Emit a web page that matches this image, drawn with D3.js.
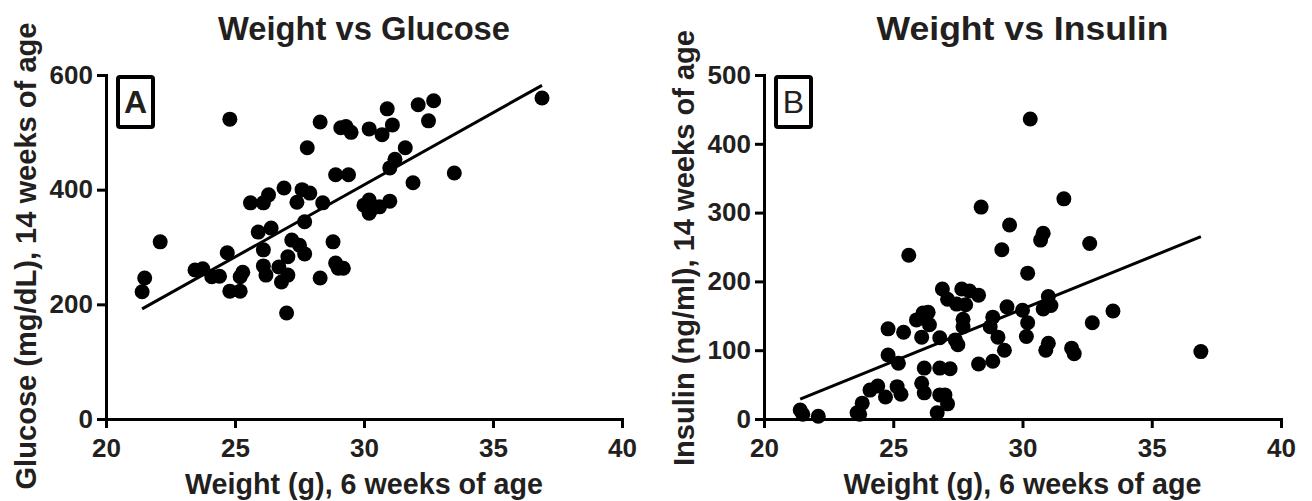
<!DOCTYPE html>
<html>
<head>
<meta charset="utf-8">
<script src="https://cdn.jsdelivr.net/npm/d3@7"></script>
<style>
  body { margin: 0; background: #fff; }
  text { font-family: "Liberation Sans", Arial, sans-serif; fill: #231f20; }
</style>
</head>
<body>
<div id="chart"></div>
<script>
// panel A: weight (g) at 6 weeks vs glucose (mg/dL) at 14 weeks
const weightA = [21.4, 21.5, 22.1, 23.45, 23.75, 24.1, 24.4, 24.7, 24.8, 24.8, 25.2, 25.2, 25.3,
  25.6, 25.9, 26.1, 26.1, 26.1, 26.2, 26.3, 26.4, 26.7, 26.8, 26.9, 27.05, 27.05, 27.0, 27.2,
  27.4, 27.5, 27.6, 27.7, 27.7, 27.8, 27.9, 28.3, 28.3, 28.4, 28.8, 28.9, 28.9, 29.0, 29.2,
  29.1, 29.3, 29.5, 29.4, 30.0, 30.2, 30.2, 30.2, 30.35, 30.6, 30.7, 30.9, 31.0, 31.0, 31.1,
  31.2, 31.6, 31.9, 32.1, 32.5, 32.7, 33.5, 36.9];
const glucose = [222, 246, 309, 260, 262, 248, 249, 290, 223, 523, 223, 248, 256,
  377, 326, 377, 295, 267, 251, 391, 333, 265, 239, 403, 251, 283, 185, 312,
  378, 303, 400, 288, 344, 473, 394, 518, 246, 377, 309, 426, 272, 263, 263,
  508, 510, 500, 426, 373, 382, 359, 506, 368, 370, 496, 541, 380, 438, 513,
  453, 473, 412, 548, 520, 555, 429, 560];
const fitA = [[21.4, 192], [36.9, 582]];

// panel B: weight (g) at 6 weeks vs insulin (ng/ml) at 14 weeks
const weightB = [21.4, 21.5, 22.1, 23.6, 23.7, 23.8, 24.1, 24.4, 24.7, 24.8, 24.8, 25.15, 25.2,
  25.3, 25.4, 25.6, 25.9, 26.1, 26.1, 26.15, 26.2, 26.2, 26.35, 26.4, 26.7, 26.8, 26.8, 26.8,
  26.9, 27.0, 27.1, 27.1, 27.2, 27.4, 27.45, 27.5, 27.65, 27.7, 27.7, 27.8, 27.95, 28.3, 28.3,
  28.4, 28.75, 28.85, 28.85, 29.05, 29.2, 29.3, 29.4, 29.5, 30.0, 30.15, 30.2, 30.2, 30.3,
  30.7, 30.8, 30.9, 31.0, 31.0, 31.1, 30.8, 31.6, 31.9, 32.0, 32.6, 32.7, 33.5, 36.9];
const insulin = [13, 7, 4, 9, 7, 23, 42, 48, 32, 131, 93, 47, 81,
  36, 126, 238, 144, 119, 52, 154, 74, 38, 155, 137, 9, 118, 74, 35,
  189, 35, 174, 22, 73, 115, 167, 108, 189, 145, 134, 166, 186, 180, 80,
  308, 134, 148, 84, 119, 246, 100, 163, 282, 158, 120, 140, 212, 436,
  260, 270, 100, 110, 178, 165, 160, 320, 103, 95, 255, 140, 157, 98];
const fitB = [[21.4, 29], [36.9, 265]];

const xTicks = [20, 25, 30, 35, 40];
const yTicksA = [0, 200, 400, 600];
const yTicksB = [0, 100, 200, 300, 400, 500];

const W = 1312, H = 501;
const svg = d3.select("#chart").append("svg")
  .attr("width", W).attr("height", H);

const panels = [
  {left: 106, right: 622, top: 75, bottom: 419, xs: weightA, ys: glucose, fit: fitA,
   yMax: 600, yTicks: yTicksA, title: "Weight vs Glucose", letter: "A", bold: true,
   ytitle: "Glucose (mg/dL), 14 weeks of age", ytitleX: 36, ytitleLen: 467, ytitleY: 256},
  {left: 764, right: 1281, top: 75, bottom: 419, xs: weightB, ys: insulin, fit: fitB,
   yMax: 500, yTicks: yTicksB, title: "Weight vs Insulin", letter: "B", bold: false,
   ytitle: "Insulin (ng/ml), 14 weeks of age", ytitleX: 694, ytitleLen: 436, ytitleY: 248}
];

panels.forEach(p => {
  const x = d3.scaleLinear().domain([20, 40]).range([p.left, p.right]);
  const y = d3.scaleLinear().domain([0, p.yMax]).range([p.bottom, p.top]);
  const g = svg.append("g");

  // axes
  const xAxis = g.append("g")
    .attr("transform", `translate(0,${p.bottom})`)
    .call(d3.axisBottom(x).tickValues(xTicks).tickSize(9).tickSizeOuter(0).tickPadding(10));
  const yAxis = g.append("g")
    .attr("transform", `translate(${p.left},0)`)
    .call(d3.axisLeft(y).tickValues(p.yTicks).tickSize(9).tickSizeOuter(0).tickPadding(4));

  [xAxis, yAxis].forEach(a => {
    a.select(".domain").attr("stroke", "#000").attr("stroke-width", 3)
      .attr("stroke-linecap", "square");
    a.selectAll(".tick line").attr("stroke", "#000").attr("stroke-width", 3);
    a.selectAll(".tick text")
      .style("font-family", "'Liberation Sans', Arial, sans-serif")
      .style("font-size", "26px").style("font-weight", "bold").attr("fill", "#231f20");
  });
  xAxis.selectAll(".tick text").attr("dy", "0.72em");

  // points
  g.append("g").selectAll("circle")
    .data(p.xs.map((w, i) => [w, p.ys[i]]))
    .enter().append("circle")
    .attr("cx", d => x(d[0]))
    .attr("cy", d => y(d[1]))
    .attr("r", 7.5)
    .attr("fill", "#000");

  // regression line
  g.append("line")
    .attr("x1", x(p.fit[0][0])).attr("y1", y(p.fit[0][1]))
    .attr("x2", x(p.fit[1][0])).attr("y2", y(p.fit[1][1]))
    .attr("stroke", "#000").attr("stroke-width", 3);

  // titles
  g.append("text")
    .attr("x", (p.left + p.right) / 2).attr("y", 40)
    .attr("text-anchor", "middle")
    .attr("textLength", 292).attr("lengthAdjust", "spacingAndGlyphs")
    .style("font-size", "33px").style("font-weight", "bold")
    .text(p.title);

  g.append("text")
    .attr("x", (p.left + p.right) / 2).attr("y", 494)
    .attr("text-anchor", "middle")
    .attr("textLength", 358).attr("lengthAdjust", "spacingAndGlyphs")
    .style("font-size", "30px").style("font-weight", "bold")
    .text("Weight (g), 6 weeks of age");

  g.append("text")
    .attr("transform", `translate(${p.ytitleX},${p.ytitleY}) rotate(-90)`)
    .attr("text-anchor", "middle")
    .attr("textLength", p.ytitleLen).attr("lengthAdjust", "spacingAndGlyphs")
    .style("font-size", "30px").style("font-weight", "bold")
    .text(p.ytitle);

  // panel letter box
  const bx = p.left + 10, by = p.top;
  g.append("rect")
    .attr("x", bx + 2).attr("y", by + 2)
    .attr("width", 35).attr("height", 50)
    .attr("rx", 2)
    .attr("fill", "none").attr("stroke", "#000").attr("stroke-width", 4);
  g.append("text")
    .attr("x", bx + 19.5).attr("y", by + 38)
    .attr("text-anchor", "middle")
    .style("font-size", "32px").style("font-weight", p.bold ? "bold" : "normal")
    .text(p.letter);
});
</script>
</body>
</html>
